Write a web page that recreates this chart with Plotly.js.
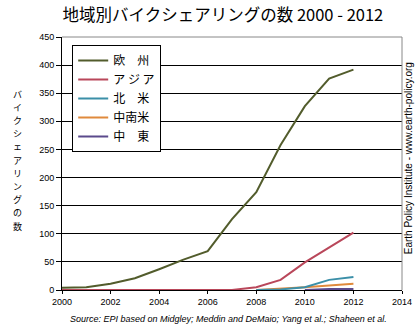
<!DOCTYPE html>
<html>
<head>
<meta charset="utf-8">
<script src="https://cdn.plot.ly/plotly-3.0.1.min.js"></script>
<style>html,body{margin:0;padding:0;background:#fff;}#chart{width:419px;height:329px;}</style>
</head>
<body>
<div id="chart"></div>
<script>
const years = [2000, 2001, 2002, 2003, 2004, 2005, 2006, 2007, 2008, 2009, 2010, 2011, 2012];
const europe = [4, 5, 11, 21, 37, 54, 69, 126, 174, 258, 327, 376, 392];
const asia = [0, 0, 0, 0, 0, 0, 0, 0, 5, 18, 49, 76, 102];
const northAmericaYears = [2008, 2009, 2010, 2011, 2012];
const northAmerica = [0, 1, 5, 18, 23];
const latinAmericaYears = [2008, 2009, 2010, 2011, 2012];
const latinAmerica = [0, 2, 5, 8, 11];
const middleEastYears = [2010, 2011, 2012];
const middleEast = [0, 2, 2];
const seriesNames = ['欧　州', 'ア ジ ア', '北　米', '中南米', '中　東'];
const xTicks = [2000, 2002, 2004, 2006, 2008, 2010, 2012, 2014];
const yTitleChars = ['バ', 'イ', 'ク', 'シ', 'ェ', 'ア', 'リ', 'ン', 'グ', 'の', '数'];

const colors = ['#525c2c', '#b9475a', '#3b8fa8', '#e08a3c', '#5b4a8c'];
const traces = [
  {x: years, y: europe, name: seriesNames[0]},
  {x: years, y: asia, name: seriesNames[1]},
  {x: northAmericaYears, y: northAmerica, name: seriesNames[2]},
  {x: latinAmericaYears, y: latinAmerica, name: seriesNames[3]},
  {x: middleEastYears, y: middleEast, name: seriesNames[4]}
].map((t, i) => Object.assign(t, {type: 'scatter', mode: 'lines', line: {color: colors[i], width: 2}}));
const order = [traces[4], traces[3], traces[2], traces[1], traces[0]];

const tickFont = {family: 'Arial, Liberation Sans, sans-serif', size: 9, color: '#000'};
const jpFont = 'Noto Sans CJK JP';

// vertical (upright) axis title, one annotation per character
const plotTop = 37, plotH = 253;
const titleAnns = yTitleChars.map((ch, i) => ({
  text: ch, xref: 'paper', yref: 'paper',
  x: -0.132, y: (plotTop + plotH - (94 + i * 13.2)) / plotH,
  xanchor: 'center', yanchor: 'middle', showarrow: false, borderpad: 0,
  font: {family: jpFont, size: 9, color: '#000'}
}));

const layout = {
  width: 419, height: 329,
  margin: {l: 62, r: 17, t: 37, b: 39},
  paper_bgcolor: '#fff', plot_bgcolor: '#fff',
  showlegend: true,
  legend: {
    x: 0.03, y: 0.968, xanchor: 'left', yanchor: 'top',
    bordercolor: '#000', borderwidth: 1, bgcolor: '#fff',
    font: {family: jpFont, size: 12, color: '#000'},
    traceorder: 'reversed', tracegroupgap: 0, itemwidth: 30
  },
  title: {
    text: '地域別バイクシェアリングの数 2000 - 2012',
    font: {family: jpFont, size: 16.5, color: '#000'},
    x: 0.532, xref: 'container', xanchor: 'center', y: 0.955, yanchor: 'middle'
  },
  xaxis: {
    range: [2000, 2014], tickvals: xTicks, ticktext: xTicks.map(String),
    showgrid: false, zeroline: false, showline: true, linecolor: '#000', linewidth: 1,
    ticks: 'outside', ticklen: 3, tickcolor: '#000', tickfont: tickFont, fixedrange: true
  },
  yaxis: {
    range: [0, 450], dtick: 50, tick0: 0,
    showgrid: true, gridcolor: '#000', gridwidth: 1, zeroline: false,
    showline: true, linecolor: '#000', linewidth: 1,
    ticks: 'outside', ticklen: 5, tickcolor: '#000', tickfont: tickFont, fixedrange: true
  },
  shapes: [
    {type: 'line', xref: 'paper', yref: 'paper', x0: 0, x1: 1, y0: 1, y1: 1, line: {color: '#888', width: 1}},
    {type: 'line', xref: 'paper', yref: 'paper', x0: 1, x1: 1, y0: 0, y1: 1, line: {color: '#888', width: 1}}
  ],
  annotations: titleAnns.concat([
    {
      text: 'Earth Policy Institute - www.earth-policy.org', xref: 'paper', yref: 'paper',
      x: 1.02, y: 0.52, xanchor: 'center', yanchor: 'middle', textangle: -90, showarrow: false,
      font: {family: 'Arial, Liberation Sans, sans-serif', size: 10, color: '#000'}
    },
    {
      text: '<i>Source: EPI based on Midgley; Meddin and DeMaio; Yang et al.; Shaheen et al.</i>',
      xref: 'paper', yref: 'paper', x: 0.49, y: -0.087, xanchor: 'center', yanchor: 'top', showarrow: false,
      font: {family: 'Arial, Liberation Sans, sans-serif', size: 9, color: '#000'}
    }
  ])
};
Plotly.newPlot('chart', order, layout, {displayModeBar: false, staticPlot: true});
</script>
</body>
</html>
